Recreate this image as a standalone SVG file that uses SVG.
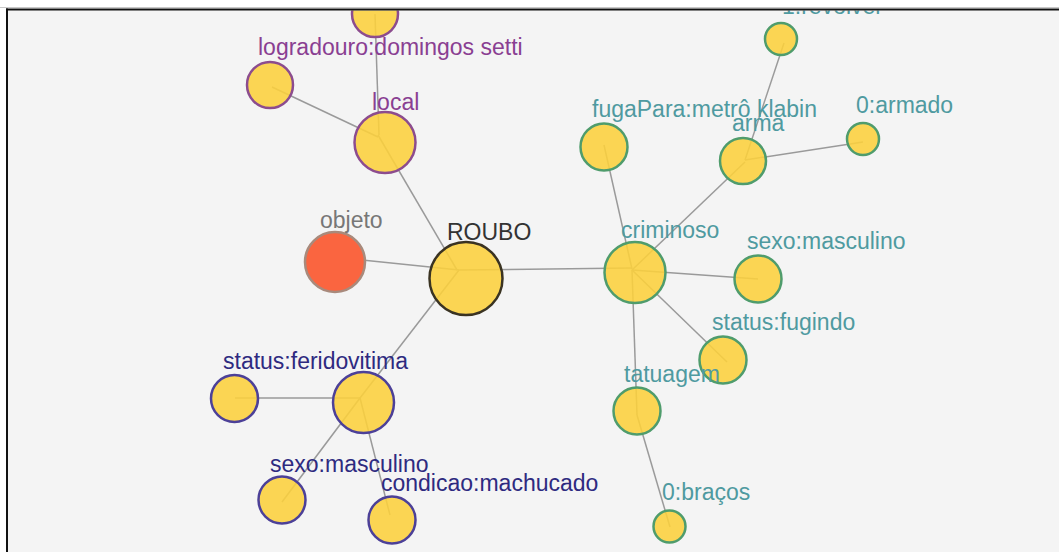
<svg xmlns="http://www.w3.org/2000/svg" width="1059" height="552" viewBox="0 0 1059 552">
<style>
  text { font-family: "Liberation Sans", Arial, sans-serif; font-size: 23px; }
  .link { stroke: #9a9a9a; stroke-width: 1.5; fill: none; }
  .n { fill: #fcd03c; fill-opacity: 0.88; stroke-width: 2.5; }
  .loc { stroke: #8c4c8e; }
  .crim { stroke: #4f9c6c; }
  .vit { stroke: #4c4098; }
  .tloc { fill: #8a3f92; }
  .tcrim { fill: #4f9aa0; }
  .tvit { fill: #2e2a80; }
</style>
<defs>
  <clipPath id="canvas"><rect x="8" y="10.5" width="1051" height="542"/></clipPath>
</defs>
<rect x="0" y="0" width="1059" height="552" fill="#ffffff"/>
<rect x="7" y="9.5" width="1052" height="543" fill="#f4f4f4"/>
<g clip-path="url(#canvas)">
<g id="links">
  <line class="link" x1="375" y1="14" x2="379" y2="135"/>
  <line class="link" x1="272" y1="87" x2="378" y2="137"/>
  <line class="link" x1="378" y1="135" x2="457" y2="270"/>
  <line class="link" x1="333" y1="257" x2="459" y2="270"/>
  <line class="link" x1="459" y1="270" x2="632" y2="268"/>
  <line class="link" x1="459" y1="270" x2="360" y2="398"/>
  <line class="link" x1="235" y1="398" x2="360" y2="398"/>
  <line class="link" x1="360" y1="398" x2="282" y2="502"/>
  <line class="link" x1="360" y1="398" x2="390" y2="515"/>
  <line class="link" x1="632" y1="269" x2="604" y2="145"/>
  <line class="link" x1="632" y1="270" x2="745" y2="162"/>
  <line class="link" x1="745" y1="160" x2="784" y2="43"/>
  <line class="link" x1="745" y1="160" x2="863" y2="142"/>
  <line class="link" x1="632" y1="270" x2="758" y2="279"/>
  <line class="link" x1="632" y1="270" x2="727" y2="362"/>
  <line class="link" x1="632" y1="270" x2="637" y2="415"/>
  <line class="link" x1="637" y1="415" x2="670" y2="527"/>
</g>
<g id="node-top"><circle class="n loc" cx="375" cy="14" r="23"/></g>
<g id="node-logradouro"><circle class="n loc" cx="270" cy="85" r="23"/><text class="tloc" x="258" y="55">logradouro:domingos setti</text></g>
<g id="node-local"><circle class="n loc" cx="385" cy="142.5" r="30.5"/><text class="tloc" x="372" y="110">local</text></g>
<g id="node-objeto"><circle cx="335" cy="262" r="30" fill="#fa6540" stroke="#a88a7c" stroke-width="2.5"/><text fill="#777777" x="320" y="228">objeto</text></g>
<g id="node-roubo"><circle class="n" cx="466" cy="278.5" r="36.5" stroke="#3a3322" stroke-width="3"/><text fill="#333333" x="447" y="240">ROUBO</text></g>
<g id="node-criminoso"><circle class="n crim" cx="635" cy="272.5" r="30.5"/><text class="tcrim" x="621" y="238">criminoso</text></g>
<g id="node-revolver"><circle class="n crim" cx="781" cy="39" r="16"/><text class="tcrim" x="782" y="14">1:revolver</text></g>
<g id="node-fugapara"><circle class="n crim" cx="604" cy="147" r="23.5"/><text class="tcrim" x="592" y="117">fugaPara:metrô klabin</text></g>
<g id="node-arma"><circle class="n crim" cx="743" cy="161" r="23"/><text class="tcrim" x="732" y="131">arma</text></g>
<g id="node-armado"><circle class="n crim" cx="863" cy="139" r="16"/><text class="tcrim" x="856" y="113">0:armado</text></g>
<g id="node-sexo-crim"><circle class="n crim" cx="758" cy="279" r="23.5"/><text class="tcrim" x="747" y="249">sexo:masculino</text></g>
<g id="node-fugindo"><circle class="n crim" cx="723" cy="360" r="23.5"/><text class="tcrim" x="712" y="330">status:fugindo</text></g>
<g id="node-tatuagem"><circle class="n crim" cx="637" cy="411" r="23.5"/><text class="tcrim" x="624" y="382">tatuagem</text></g>
<g id="node-bracos"><circle class="n crim" cx="669.5" cy="526.5" r="16"/><text class="tcrim" x="662" y="500">0:braços</text></g>
<g id="node-ferido"><circle class="n vit" cx="234.5" cy="398.5" r="23.5"/><text class="tvit" x="223" y="369">status:ferido</text></g>
<g id="node-vitima"><circle class="n vit" cx="363.5" cy="402.5" r="30.5"/><text class="tvit" x="348" y="369">vitima</text></g>
<g id="node-sexo-vit"><circle class="n vit" cx="282" cy="500" r="23.5"/><text class="tvit" x="270" y="472">sexo:masculino</text></g>
<g id="node-condicao"><circle class="n vit" cx="392" cy="520" r="23.5"/><text class="tvit" x="381" y="491">condicao:machucado</text></g>
</g>
<line x1="0" y1="7.5" x2="1059" y2="7.5" stroke="#c8c8c8" stroke-width="1"/>
<line x1="6" y1="9.5" x2="1059" y2="9.5" stroke="#111111" stroke-width="2"/>
<line x1="7" y1="8.5" x2="7" y2="552" stroke="#111111" stroke-width="2"/>
</svg>
